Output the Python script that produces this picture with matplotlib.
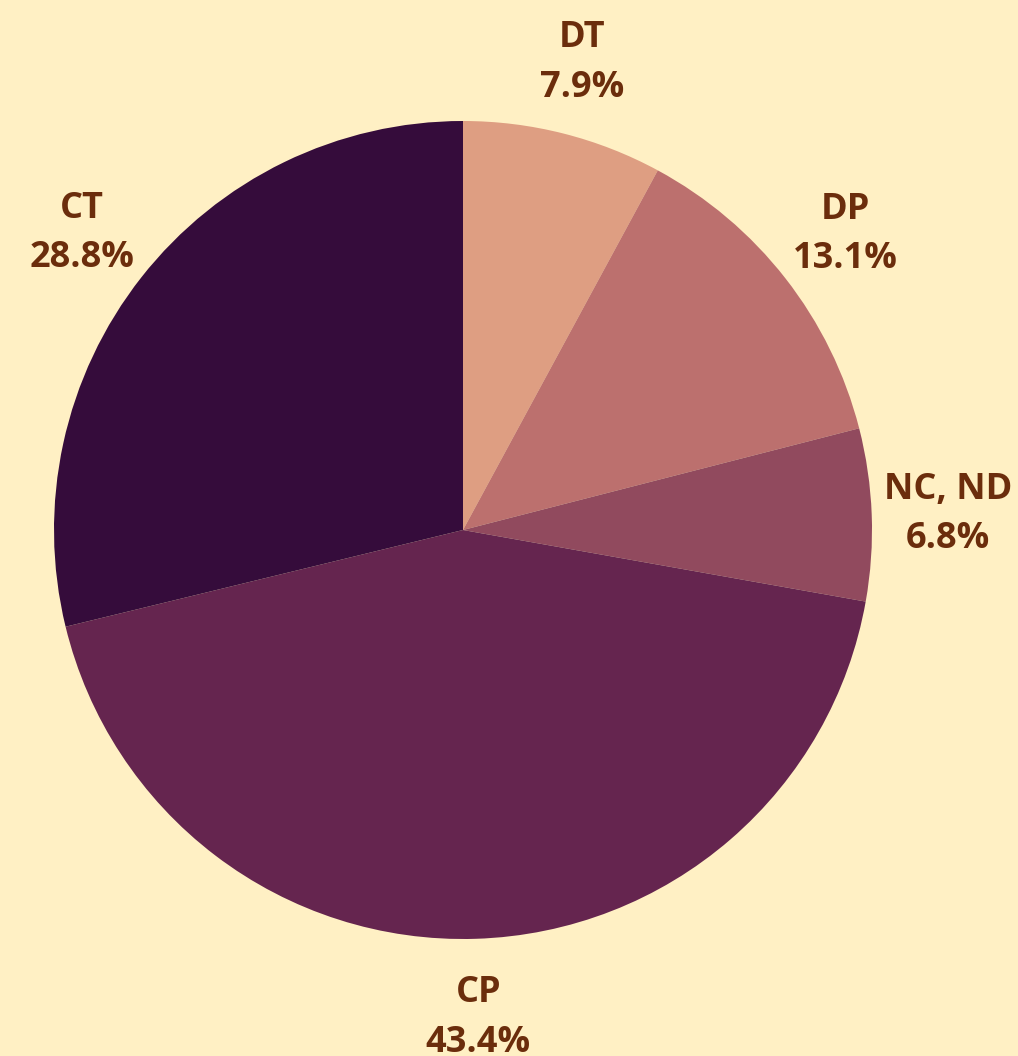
import matplotlib
matplotlib.use("Agg")
import matplotlib.pyplot as plt

categories = ["DT", "DP", "NC, ND", "CP", "CT"]
values = [7.9, 13.1, 6.8, 43.4, 28.8]
colors = ["#DE9E82", "#BC706E", "#914A5E", "#65254F", "#350C3B"]

bg = "#FFF0C4"
text_color = "#6B2D0C"

plt.rcParams['font.family'] = ['Open Sans', 'DejaVu Sans']

fig = plt.figure(figsize=(10.18, 10.56), dpi=100, facecolor=bg)
ax = fig.add_axes([0, 0, 1, 1])
ax.set_facecolor(bg)

labels_iter = iter(categories)

def fmt(p):
    return f"{next(labels_iter)}\n{p:.1f}%"

wedges, texts, autotexts = ax.pie(
    values, colors=colors, startangle=90, counterclock=False,
    center=(463, 526), radius=409, autopct=fmt, pctdistance=1.186,
    wedgeprops=dict(linewidth=0), frame=True,
    textprops=dict(color=text_color, fontsize=26, fontweight='bold', linespacing=1.5),
)
for t in autotexts:
    x, y = t.get_position()
    t.set_position((x, y - 3))

ax.set_xlim(0, 1018)
ax.set_ylim(0, 1056)
ax.set_aspect('equal')
ax.axis('off')

fig.savefig("out.png", dpi=100, facecolor=bg)
